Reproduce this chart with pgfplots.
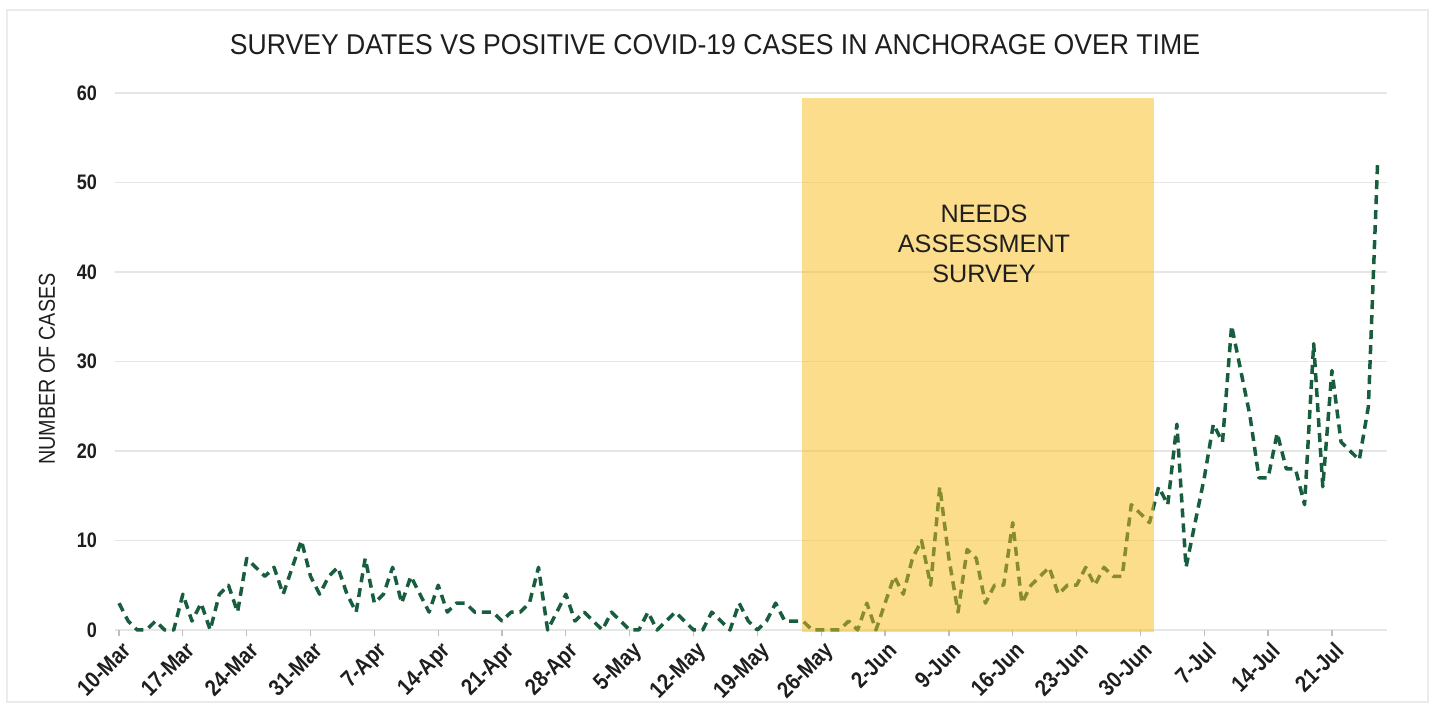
\documentclass[border=0pt]{standalone}
\usepackage{pgfplots}
\pgfplotsset{compat=1.18}
\usepackage{pgfplotstable}
\usepackage{fontspec}
\setmainfont{Liberation Sans}
\newfontfamily\narrowfont[FakeStretch=0.86]{Liberation Sans}
\usepackage{graphicx}

\definecolor{linegreen}{RGB}{24,94,62}
\definecolor{boxyellow}{RGB}{249,189,25}
\definecolor{gridgray}{RGB}{230,230,230}
\definecolor{textdark}{RGB}{30,30,30}

\pgfplotstableread{
day cases
0 3
1 1
2 0
3 0
4 1
5 0
6 0
7 4
8 1
9 3
10 0
11 4
12 5
13 2
14 8
15 7
16 6
17 7
18 4
19 7
20 10
21 6
22 4
23 6
24 7
25 4
26 2
27 8
28 3
29 4
30 7
31 3
32 6
33 4
34 2
35 5
36 2
37 3
38 3
39 2
40 2
41 2
42 1
43 2
44 2
45 3
46 7
47 0
48 2
49 4
50 1
51 2
52 1
53 0
54 2
55 1
56 0
57 0
58 2
59 0
60 1
61 2
62 1
63 0
64 0
65 2
66 1
67 0
68 3
69 1
70 0
71 1
72 3
73 1
74 1
75 1
76 0
77 0
78 0
79 0
80 1
81 0
82 3
83 0
84 3
85 6
86 4
87 8
88 10
89 5
90 16
91 8
92 2
93 9
94 8
95 3
96 5
97 5
98 12
99 3
100 5
101 6
102 7
103 4
104 5
105 5
106 7
107 5
108 7
109 6
110 6
111 14
112 13
113 12
114 16
115 14
116 23
117 7
118 12
119 17
120 23
121 21
122 34
123 29
124 24
125 17
126 17
127 22
128 18
129 18
130 14
131 32
132 16
133 29
134 21
135 20
136 19
137 25
138 52
}\casedata

\begin{document}
\begin{tikzpicture}
\useasboundingbox (0,0) rectangle (717pt,353pt);
\fill[white] (0,0) rectangle (717pt,353pt);
\draw[line width=0.8pt, color=black!8] (3.5pt,2pt) rectangle (714pt,348pt);
\begin{axis}[
  at={(57.5pt,38pt)}, anchor=south west,
  scale only axis, width=636pt, height=268.5pt,
  xmin=-0.44, xmax=139.04, ymin=0, ymax=60,
  clip=false,
  axis line style={draw=none},
  ymajorgrids, major grid style={draw=gridgray, line width=0.8pt},
  ytick={0,10,...,60},
  ytick style={draw=none},
  xtick={0,7,...,133},
  xticklabels={10-Mar,17-Mar,24-Mar,31-Mar,7-Apr,14-Apr,21-Apr,28-Apr,5-May,12-May,19-May,26-May,2-Jun,9-Jun,16-Jun,23-Jun,30-Jun,7-Jul,14-Jul,21-Jul},
  xtick pos=bottom, tick align=outside, major tick length=3pt,
  xtick style={draw=black!25, line width=0.6pt},
  xticklabel style={rotate=45, anchor=north east, font=\narrowfont\fontsize{11.5}{13}\selectfont\bfseries, text=textdark, inner sep=1pt, yshift=-1pt},
  yticklabel style={font=\narrowfont\fontsize{10.5}{12}\selectfont\bfseries, text=textdark, xshift=-2.5pt},
  /pgf/number format/assume math mode=true,
]
\addplot[linegreen, line width=1.75pt, dash pattern=on 4.5pt off 3pt, line join=round] table[x=day,y=cases]{\casedata};
\fill[boxyellow, fill opacity=0.5] (axis cs:74.9,-0.25) rectangle (axis cs:113.5,59.4);
\end{axis}
\node[anchor=base, text=textdark, inner sep=0pt] at (357.5pt,325.5pt) {\resizebox{485pt}{10pt}{SURVEY DATES VS POSITIVE COVID-19 CASES IN ANCHORAGE OVER TIME}};
\node[rotate=90, text=textdark, font=\narrowfont\fontsize{11.5}{13}\selectfont, inner sep=0pt] at (23.5pt,168.5pt) {NUMBER OF CASES};
\node[anchor=base, text=textdark, font=\fontsize{12.6}{15}\selectfont, inner sep=0pt] at (492pt,241.5pt) {NEEDS};
\node[anchor=base, text=textdark, font=\fontsize{12.6}{15}\selectfont, inner sep=0pt] at (492pt,226.5pt) {ASSESSMENT};
\node[anchor=base, text=textdark, font=\fontsize{12.6}{15}\selectfont, inner sep=0pt] at (492pt,211.5pt) {SURVEY};
\end{tikzpicture}
\end{document}
